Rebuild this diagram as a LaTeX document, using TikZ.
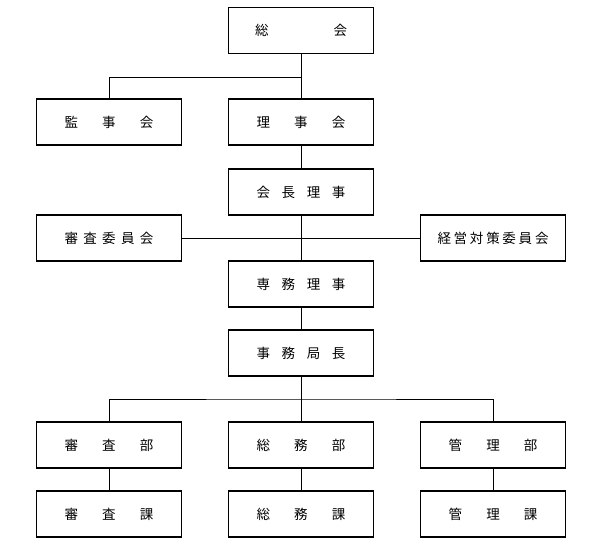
\documentclass[tikz,border=0pt]{standalone}
\usepackage{fontspec}
\setmainfont{Noto Sans CJK JP}
\usepackage{tikz}
\tikzset{org/.style = {draw, line width=1.6pt, minimum width=145pt, minimum height=46pt,
    inner sep=0pt, font=\fontsize{13.5}{15}\selectfont},
  link/.style = {line width=.8pt}}
\newcommand{\sptxt}[1]{\makebox[89pt][s]{#1}}

\begin{document}
\begin{tikzpicture}[x=1pt, y=-1pt]
  \useasboundingbox (0,0) rectangle (600,550);
  \node[org] (sokai) at (301,30.5) {\makebox[92pt][s]{総\hfill 会}};
  \node[org] (kanjikai) at (109,122) {\sptxt{監\hfill 事\hfill 会}};
  \node[org] (rijikai) at (301,122) {\sptxt{理\hfill 事\hfill 会}};
  \node[org] (kaicho) at (301,192) {\sptxt{会\hfill 長\hfill 理\hfill 事}};
  \node[org] (shinsaiin) at (109,238) {\sptxt{審\hfill 査\hfill 委\hfill 員\hfill 会}};
  \node[org] (keiei) at (493,238) {\makebox[111pt][s]{経\hfill 営\hfill 対\hfill 策\hfill 委\hfill 員\hfill 会}};
  \node[org] (senmu) at (301,284) {\sptxt{専\hfill 務\hfill 理\hfill 事}};
  \node[org] (jimukyoku) at (301,353) {\sptxt{事\hfill 務\hfill 局\hfill 長}};
  \node[org] (shinsabu) at (109,445) {\sptxt{審\hfill 査\hfill 部}};
  \node[org] (somubu) at (301,445) {\sptxt{総\hfill 務\hfill 部}};
  \node[org] (kanribu) at (493,445) {\sptxt{管\hfill 理\hfill 部}};
  \node[org] (shinsaka) at (109,514) {\sptxt{審\hfill 査\hfill 課}};
  \node[org] (somuka) at (301,514) {\sptxt{総\hfill 務\hfill 課}};
  \node[org] (kanrika) at (493,514) {\sptxt{管\hfill 理\hfill 課}};
  \coordinate (top) at (301,77);
  \coordinate (mid) at (301,399);
  % lines
  \begin{scope}[link]
    \draw (sokai.south) -- (rijikai.north);
    \draw (kanjikai.north) |- (top);
    \draw (rijikai) -- (kaicho);
    \draw (kaicho) -- (senmu);
    \draw (shinsaiin) -- (keiei);
    \draw (senmu) -- (jimukyoku);
    \draw (jimukyoku) -- (somubu);
    \draw (shinsabu.north) |- (mid) -| (kanribu.north);
    \draw (shinsabu) -- (shinsaka);
    \draw (somubu) -- (somuka);
    \draw (kanribu) -- (kanrika);
  \end{scope}
\end{tikzpicture}
\end{document}
